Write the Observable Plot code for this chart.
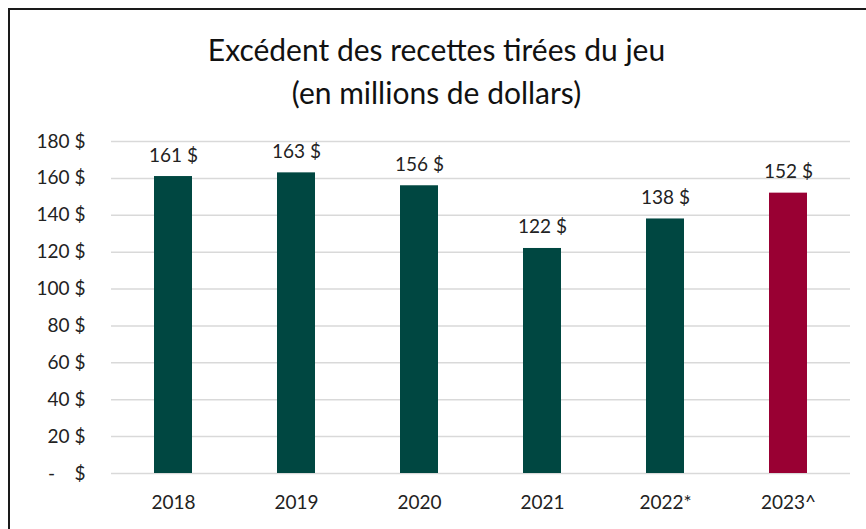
<!DOCTYPE html>
<html>
<head>
<meta charset="utf-8">
<script src="https://cdn.jsdelivr.net/npm/d3@7"></script>
<script src="https://cdn.jsdelivr.net/npm/@observablehq/plot@0.6"></script>
<style>
  html, body { margin: 0; padding: 0; background: #fff; overflow: hidden; width: 866px; height: 529px; }
  #frame { position: absolute; left: 8px; top: 8px; width: 900px; height: 600px; border: 2.5px solid #1a1a1a; box-sizing: border-box; }
  #title { position: absolute; left: 9px; top: 0; width: 855px; height: 120px; text-align: center; font-family: Lato, "Open Sans", sans-serif; font-size: 30px; color: #111; }
  #title div { position: absolute; left: 0; right: 0; line-height: 36px; }
  #chart { position: absolute; left: 0; top: 120px; }
</style>
</head>
<body>
<div id="frame"></div>
<div id="title">
  <div style="top:31px">Excédent des recettes tirées du jeu</div>
  <div style="top:74px">(en millions de dollars)</div>
</div>
<div id="chart"></div>
<script>
const years = ["2018", "2019", "2020", "2021", "2022*", "2023^"];
const values = [161, 163, 156, 122, 138, 152];
const barColors = ["#004741", "#004741", "#004741", "#004741", "#004741", "#990033"];
const yTicks = [0, 20, 40, 60, 80, 100, 120, 140, 160, 180];

const data = years.map((y, i) => ({year: y, value: values[i], color: barColors[i]}));
const NB = "\u00a0";
const fmt = v => v === 0 ? `-${NB}${NB}${NB}${NB}$` : `${v}${NB}$`;

const plot = Plot.plot({
  width: 866,
  height: 409,
  marginTop: 21,
  marginBottom: 56,
  marginLeft: 111,
  marginRight: 16,
  style: {fontFamily: "Lato, 'Open Sans', sans-serif", fontSize: "19px", color: "#222", background: "transparent"},
  x: {domain: years, paddingInner: 0.69, paddingOuter: 0.345, label: null},
  y: {domain: [0, 180], label: null},
  marks: [
    Plot.gridY(yTicks, {stroke: "#d9d9d9", strokeOpacity: 1, strokeWidth: 1.5}),
    Plot.barY(data, {x: "year", y: "value", fill: "color"}),
    Plot.text(data, {x: "year", y: "value", text: d => `${d.value}${NB}$`, lineAnchor: "bottom", dy: -15, fill: "#222", fontSize: 19}),
    Plot.axisY(yTicks, {tickSize: 0, tickPadding: 26, tickFormat: fmt, fontSize: 19, fill: "#222"}),
    Plot.axisX({tickSize: 0, tickPadding: 22, fontSize: 19, fill: "#222"})
  ]
});
document.getElementById("chart").appendChild(plot);
</script>
</body>
</html>
